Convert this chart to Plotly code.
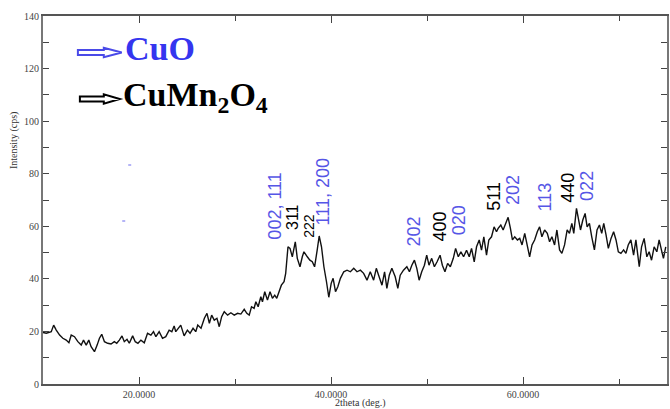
import plotly.graph_objects as go

# ---- XRD pattern (2theta in degrees, intensity in cps) ----
two_theta = [
    10.00, 10.35, 10.86, 11.11, 11.38, 11.73, 12.07, 12.42, 12.70, 12.94,
    13.28, 13.63, 13.98, 14.22, 14.50, 14.77, 15.01, 15.36, 15.64, 15.88,
    16.12, 16.40, 16.74, 17.09, 17.43, 17.68, 17.95, 18.23, 18.47, 18.75,
    18.99, 19.34, 19.61, 19.89, 20.20, 20.55, 20.89, 21.24, 21.51, 21.76,
    22.10, 22.45, 22.79, 23.14, 23.42, 23.66, 23.83, 24.07, 24.35, 24.70,
    25.04, 25.32, 25.63, 25.91,
    26.12, 26.46, 26.81, 27.08, 27.33, 27.57, 27.84, 28.12, 28.36, 28.61,
    28.88, 29.23, 29.57, 29.92, 30.27, 30.61, 30.96, 31.23, 31.48, 31.72,
    31.99, 32.17, 32.41, 32.69, 32.86, 33.10, 33.38, 33.65, 33.90, 34.14,
    34.35, 34.59, 34.83, 35.11, 35.28, 35.52, 35.73, 35.97, 36.28, 36.49,
    36.77, 37.01, 37.18, 37.53, 37.80, 38.05, 38.29, 38.56, 38.77, 39.01,
    39.26, 39.53, 39.77, 40.02, 40.22, 40.47, 40.71, 40.98,
    41.33, 41.67, 42.02, 42.37, 42.71, 43.06, 43.40, 43.75, 44.09, 44.44,
    44.72, 44.96, 45.31, 45.58, 45.82, 46.07, 46.34, 46.69, 46.96, 47.21,
    47.55, 47.90, 48.17, 48.42, 48.69, 48.94, 49.18, 49.45, 49.73, 49.97,
    50.21, 50.49, 50.77, 51.05, 51.36, 51.60, 51.87, 52.15, 52.43, 52.74,
    52.98, 53.26, 53.53, 53.81, 54.12, 54.40, 54.64, 54.92, 55.16, 55.44,
    55.68, 55.92, 56.20, 56.44, 56.72, 56.99, 57.24,
    57.41, 57.69, 57.93, 58.17, 58.45, 58.69, 58.90, 59.14, 59.42, 59.66,
    59.90, 60.18, 60.45, 60.69, 60.94, 61.21, 61.49, 61.73, 61.97, 62.25,
    62.53, 62.77, 63.01, 63.29, 63.53, 63.81, 64.05, 64.33, 64.60, 64.84,
    65.09, 65.29, 65.57, 65.78, 65.99, 66.23, 66.47, 66.68, 66.92, 67.16,
    67.44, 67.71, 67.96, 68.20, 68.41, 68.65, 68.89, 69.17, 69.44, 69.69,
    69.93, 70.20, 70.48, 70.72, 70.96, 71.24, 71.52, 71.76, 72.11, 72.35,
    72.62, 72.90, 73.14, 73.39, 73.66, 73.94, 74.18, 74.42, 74.63, 74.87,
]

intensity = [
    19.6, 19.3, 19.9, 22.4, 20.5, 18.6, 17.4, 16.7, 15.7, 18.6,
    18.0, 16.1, 14.8, 16.7, 14.8, 16.7, 14.2, 12.3, 14.8, 17.4,
    18.9, 16.1, 15.5, 15.2, 16.1, 15.5, 16.7, 18.3, 16.1, 17.0,
    15.5, 18.3, 16.1, 15.5, 16.7, 15.7, 19.3, 18.6, 19.9, 18.0,
    19.9, 17.4, 18.0, 20.5, 19.9, 22.1, 19.9, 21.2, 22.4, 18.3,
    20.5, 19.3, 21.2, 19.9,
    22.4, 21.2, 25.0, 26.9, 23.1, 26.2, 24.3, 25.0, 21.8, 25.6,
    27.5, 26.2, 27.1, 26.2, 26.9, 26.6, 28.4, 26.9, 26.2, 29.4,
    28.8, 31.3, 29.4, 33.2, 31.3, 35.1, 31.9, 35.1, 32.6, 33.8,
    32.6, 35.1, 37.6, 38.9, 42.1, 52.2, 51.6, 48.4, 54.1, 47.8,
    44.6, 48.4, 50.3, 48.4, 47.1, 46.5, 44.6, 50.9, 56.3, 52.2,
    44.6, 38.9, 33.0, 38.3, 40.2, 35.1, 37.0, 40.2,
    42.7, 43.3, 42.7, 44.0, 42.7, 43.3, 42.1, 39.5, 42.7, 39.5,
    44.0, 41.4, 37.6, 42.7, 36.4, 41.4, 44.0, 40.8, 36.4, 41.4,
    43.3, 44.6, 42.7, 45.2, 47.1, 44.0, 39.5, 42.7, 45.2, 49.0,
    45.2, 47.8, 44.6, 46.5, 49.0, 45.2, 42.7, 45.9, 44.6, 47.8,
    51.6, 48.4, 50.3, 48.4, 50.9, 48.4, 51.6, 46.5, 52.2, 54.8,
    50.9, 56.0, 49.0, 54.8, 56.0, 59.8, 57.9,
    59.2, 60.5, 58.6, 61.1, 63.4, 59.2, 54.8, 56.0, 54.8, 55.4,
    52.9, 57.3, 52.9, 48.4, 52.9, 54.8, 57.9, 59.8, 56.0, 58.6,
    57.3, 54.1, 56.0, 52.9, 58.6, 51.0, 49.7, 52.9, 58.6, 57.3,
    61.1, 57.3, 66.8, 63.0, 58.6, 62.4, 64.9, 59.8, 61.1, 56.0,
    51.0, 58.6, 60.5, 57.3, 61.1, 56.7, 51.6, 55.4, 57.9, 54.8,
    50.3, 49.7, 51.0, 49.7, 52.9, 54.8, 49.0, 54.8, 44.6, 52.2,
    55.4, 48.4, 50.3, 47.1, 52.2, 50.3, 54.8, 51.0, 47.8, 52.2,
]

# ---- indexed reflections ----
peak_hkl = ["002, 111", "311", "222", "111, 200", "202", "400",
            "020", "511", "202", "113", "440", "022"]
peak_phase = ["CuO", "CuMn2O4", "CuMn2O4", "CuO", "CuO", "CuMn2O4",
              "CuO", "CuMn2O4", "CuO", "CuO", "CuMn2O4", "CuO"]
peak_2theta = [34.07, 35.93, 37.70, 39.15, 48.69, 51.39,
               53.36, 56.99, 58.96, 62.28, 64.67, 66.64]
label_base = [54.0, 57.8, 54.8, 59.7, 51.7, 53.6,
              55.9, 65.0, 67.3, 65.0, 68.1, 68.8]

x_ticks = [20, 40, 60]
y_ticks = [0, 20, 40, 60, 80, 100, 120, 140]

# ---- styling ----
W, H = 670, 409
ML, MR, MT, MB = 43, 1, 16, 25
PW, PH = W - ML - MR, H - MT - MB

phase_color = {"CuO": "#5656e6", "CuMn2O4": "#000000"}
label_size = {"311": 16, "222": 14}
serif = "Liberation Serif, Times New Roman, serif"
sans = "Liberation Sans, Arial, sans-serif"


def px(x, y):
    """Figure pixel position -> paper coordinates."""
    return (x - ML) / PW, (H - MB - y) / PH


fig = go.Figure()
fig.add_trace(go.Scatter(
    x=two_theta, y=intensity, mode="lines",
    line=dict(color="#111111", width=1.4),
    showlegend=False, hoverinfo="skip",
))

annotations = []
for hkl, ph, tt, base in zip(peak_hkl, peak_phase, peak_2theta, label_base):
    annotations.append(dict(
        x=tt, y=base, xref="x", yref="y", text=hkl, showarrow=False,
        textangle=-90, xanchor="center", yanchor="bottom",
        font=dict(family=sans, size=label_size.get(hkl, 18),
                  color=phase_color[ph]),
    ))

# axis titles
ax_, ay_ = px(14, 140)
annotations.append(dict(x=ax_, y=ay_, xref="paper", yref="paper",
                        text="Intensity (cps)", textangle=-90, showarrow=False,
                        xanchor="center", yanchor="middle",
                        font=dict(family=serif, size=10, color="#333333")))
bx_, by_ = px(362, 403)
annotations.append(dict(x=bx_, y=by_, xref="paper", yref="paper",
                        text="2theta (deg.)", showarrow=False,
                        xanchor="center", yanchor="middle",
                        font=dict(family=serif, size=10, color="#333333")))

# phase key
kx, ky = px(123, 48)
annotations.append(dict(x=kx, y=ky, xref="paper", yref="paper",
                        text="<b>CuO</b>", showarrow=False,
                        xanchor="left", yanchor="middle",
                        font=dict(family=serif, size=34, color="#3535ef")))
kx, ky = px(121, 97)
annotations.append(dict(x=kx, y=ky, xref="paper", yref="paper",
                        text="<b>CuMn<sub>2</sub>O<sub>4</sub></b>", showarrow=False,
                        xanchor="left", yanchor="middle",
                        font=dict(family=serif, size=34, color="#000000")))


def arrow_path(x0, x1, yc, shaft, head, neck):
    pts = [(x0, yc - shaft), (neck, yc - shaft), (neck, yc - head), (x1, yc),
           (neck, yc + head), (neck, yc + shaft), (x0, yc + shaft)]
    conv = [px(a, b) for a, b in pts]
    return "M " + " L ".join(f"{a:.5f},{b:.5f}" for a, b in conv) + " Z"


shapes = [
    dict(type="path", xref="paper", yref="paper",
         path=arrow_path(78, 122, 52.5, 2.6, 4.6, 104),
         line=dict(color="#4a4ae8", width=2), fillcolor="white"),
    dict(type="path", xref="paper", yref="paper",
         path=arrow_path(80, 120, 99, 2.6, 4.6, 104),
         line=dict(color="#000000", width=2), fillcolor="white"),
]
# two small stray specks in the plotting area
for sx, sy in [(130, 165), (124, 221)]:
    a0, b0 = px(sx - 1.5, sy)
    a1, b1 = px(sx + 1.5, sy)
    shapes.append(dict(type="line", xref="paper", yref="paper",
                       x0=a0, y0=b0, x1=a1, y1=b1,
                       line=dict(color="#6a6aee", width=1)))

fig.update_layout(
    width=W, height=H,
    margin=dict(l=ML, r=MR, t=MT, b=MB),
    paper_bgcolor="white", plot_bgcolor="white",
    annotations=annotations, shapes=shapes,
    showlegend=False,
)
fig.update_xaxes(
    range=[10, 75], tickvals=x_ticks, tickformat=".4f",
    ticks="inside", ticklen=7, tickwidth=1, tickcolor="#444444",
    minor=dict(dtick=10, tick0=0, ticks="inside", ticklen=5, tickcolor="#444444"),
    showline=True, linecolor="#555555", linewidth=1.5, mirror="ticks",
    showgrid=False, zeroline=False,
    tickfont=dict(family=serif, size=10, color="#444444"),
)
fig.update_yaxes(
    range=[0, 140], tickvals=y_ticks,
    ticks="inside", ticklen=6, tickwidth=1, tickcolor="#444444",
    minor=dict(dtick=10, tick0=0, ticks="inside", ticklen=6, tickcolor="#444444"),
    showline=True, linecolor="#777777", linewidth=2, mirror="ticks",
    showgrid=False, zeroline=False,
    tickfont=dict(family=serif, size=10, color="#444444"),
)

fig.write_html("out.html")
